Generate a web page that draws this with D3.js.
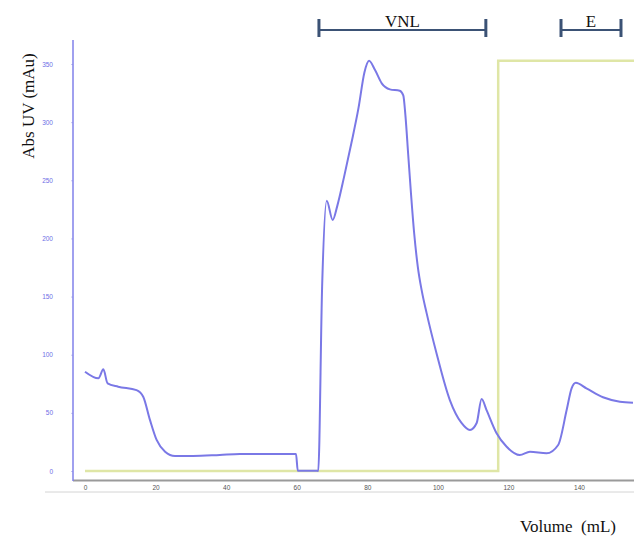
<!DOCTYPE html>
<html>
<head>
<meta charset="utf-8">
<script src="https://cdn.jsdelivr.net/npm/d3@7"></script>
<style>
  body { margin: 0; background: #fff; }
  svg text { white-space: pre; }
</style>
</head>
<body>
<svg width="634" height="538"></svg>
<script>
// UV trace: [volume mL, mAu]
var uvVolume = [0, 3.8, 5.2, 6.4, 9.4, 14.6, 16.5, 18.4, 20.3, 22.7, 25.5, 30.6, 38.2, 43.9, 59.8,
  60.3, 65.7, 66.1, 67.2, 68.5, 70.2, 71.5, 73.5, 75.5, 77.5, 79.2, 80.5, 82.2, 84.1, 86.4, 89.2, 90.2,
  90.8, 91.6, 92.4, 93.3, 94.3, 95.5, 96.8, 99.6, 103.4, 106.7, 109.1, 111.0, 112.4, 113.8, 116.6, 119.5,
  123.2, 126.1, 130.8, 134.1, 136.5, 137.9, 139.1, 142.1, 146.8, 151.6, 155.3];
var uvValue = [85.4, 79.7, 87.4, 75.4, 72.5, 69.6, 63.9, 44, 26.7, 16.6, 12.9, 12.9, 13.8, 14.6, 14.6,
  0.3, 0.3, 0, 158.5, 232.4, 215.8, 228, 254, 282, 312, 343, 352.8, 344.8, 333.4, 328.2, 327, 323,
  306, 272, 238, 204, 176, 154, 136, 101.5, 61, 41.3, 35.3, 41.3, 61.9, 52.4, 32.7, 20.9,
  13.8, 16.6, 15.2, 22.4, 52.4, 71.1, 75.9, 71.1, 63.4, 59.6, 58.7];

// step gradient
var gradVolume = [0, 117.1, 117.1, 160];
var gradValue = [0, 0, 352.8, 352.8];

var xTicks = [0, 20, 40, 60, 80, 100, 120, 140];
var yTicks = [0, 50, 100, 150, 200, 250, 300, 350];

var fractions = [
  {name: "VNL", from: 66.3, to: 113.6},
  {name: "E", from: 134.9, to: 151.9}
];

var svg = d3.select("svg");
var x = d3.scaleLinear().domain([0, 140]).range([85, 579]);
var y = d3.scaleLinear().domain([0, 350]).range([471, 64]);

var uv = uvVolume.map(function(v, i) { return [v, uvValue[i]]; });
var grad = gradVolume.map(function(v, i) { return [v, gradValue[i]]; });

// faint line under the tick labels
svg.append("line")
  .attr("x1", 45).attr("x2", 634).attr("y1", 492).attr("y2", 492)
  .attr("stroke", "#d4d4d4").attr("stroke-width", 1);

// x axis
var xAxis = svg.append("g")
  .attr("transform", "translate(0,480)")
  .call(d3.axisBottom(x).tickValues(xTicks).tickSize(0).tickPadding(5));
xAxis.select(".domain").remove();
xAxis.selectAll("text")
  .attr("font-family", "Liberation Sans, Arial, sans-serif")
  .attr("font-size", 6.5).attr("fill", "#555");
svg.append("line")
  .attr("x1", 73).attr("x2", 634).attr("y1", 480.5).attr("y2", 480.5)
  .attr("stroke", "#9a9a9a").attr("stroke-width", 2);

// y axis
var yAxis = svg.append("g")
  .attr("transform", "translate(73,0)")
  .call(d3.axisLeft(y).tickValues(yTicks).tickSize(2).tickPadding(18));
yAxis.select(".domain").remove();
yAxis.selectAll("line").attr("stroke", "#c8c8f0");
yAxis.selectAll("text")
  .attr("font-family", "Liberation Sans, Arial, sans-serif")
  .attr("font-size", 6.5).attr("fill", "#6e6ee6");
svg.append("line")
  .attr("x1", 73).attr("x2", 73).attr("y1", 40).attr("y2", 481)
  .attr("stroke", "#8080ea").attr("stroke-width", 1.5);

var line = d3.line()
  .x(function(d) { return x(d[0]); })
  .y(function(d) { return y(d[1]); });

svg.append("path")
  .datum(grad)
  .attr("d", line)
  .attr("fill", "none")
  .attr("stroke", "#dfe6a6")
  .attr("stroke-width", 2.5);

svg.append("path")
  .datum(uv)
  .attr("d", line.curve(d3.curveMonotoneX))
  .attr("fill", "none")
  .attr("stroke", "#7a78e6")
  .attr("stroke-width", 2);

// fraction brackets
var fr = svg.selectAll(".frac").data(fractions).enter().append("g").attr("class", "frac");
fr.append("line")
  .attr("x1", function(d) { return x(d.from); })
  .attr("x2", function(d) { return x(d.to); })
  .attr("y1", 30).attr("y2", 30)
  .attr("stroke", "#3b5275").attr("stroke-width", 2);
fr.append("line")
  .attr("x1", function(d) { return x(d.from); })
  .attr("x2", function(d) { return x(d.from); })
  .attr("y1", 19).attr("y2", 37)
  .attr("stroke", "#3b5275").attr("stroke-width", 3);
fr.append("line")
  .attr("x1", function(d) { return x(d.to); })
  .attr("x2", function(d) { return x(d.to); })
  .attr("y1", 19).attr("y2", 37)
  .attr("stroke", "#3b5275").attr("stroke-width", 3);
fr.append("text")
  .attr("x", function(d) { return (x(d.from) + x(d.to)) / 2; })
  .attr("y", 27)
  .attr("text-anchor", "middle")
  .attr("font-family", "Liberation Serif, Times New Roman, serif")
  .attr("font-size", 17)
  .attr("fill", "#111")
  .text(function(d) { return d.name; });

// axis titles
svg.append("text")
  .attr("transform", "translate(34,106) rotate(-90)")
  .attr("text-anchor", "middle")
  .attr("font-family", "Liberation Serif, Times New Roman, serif")
  .attr("font-size", 17)
  .attr("fill", "#111")
  .text("Abs UV (mAu)");

svg.append("text")
  .attr("x", 568).attr("y", 532)
  .attr("text-anchor", "middle")
  .attr("font-family", "Liberation Serif, Times New Roman, serif")
  .attr("font-size", 17)
  .attr("fill", "#111")
  .text("Volume  (mL)");
</script>
</body>
</html>
